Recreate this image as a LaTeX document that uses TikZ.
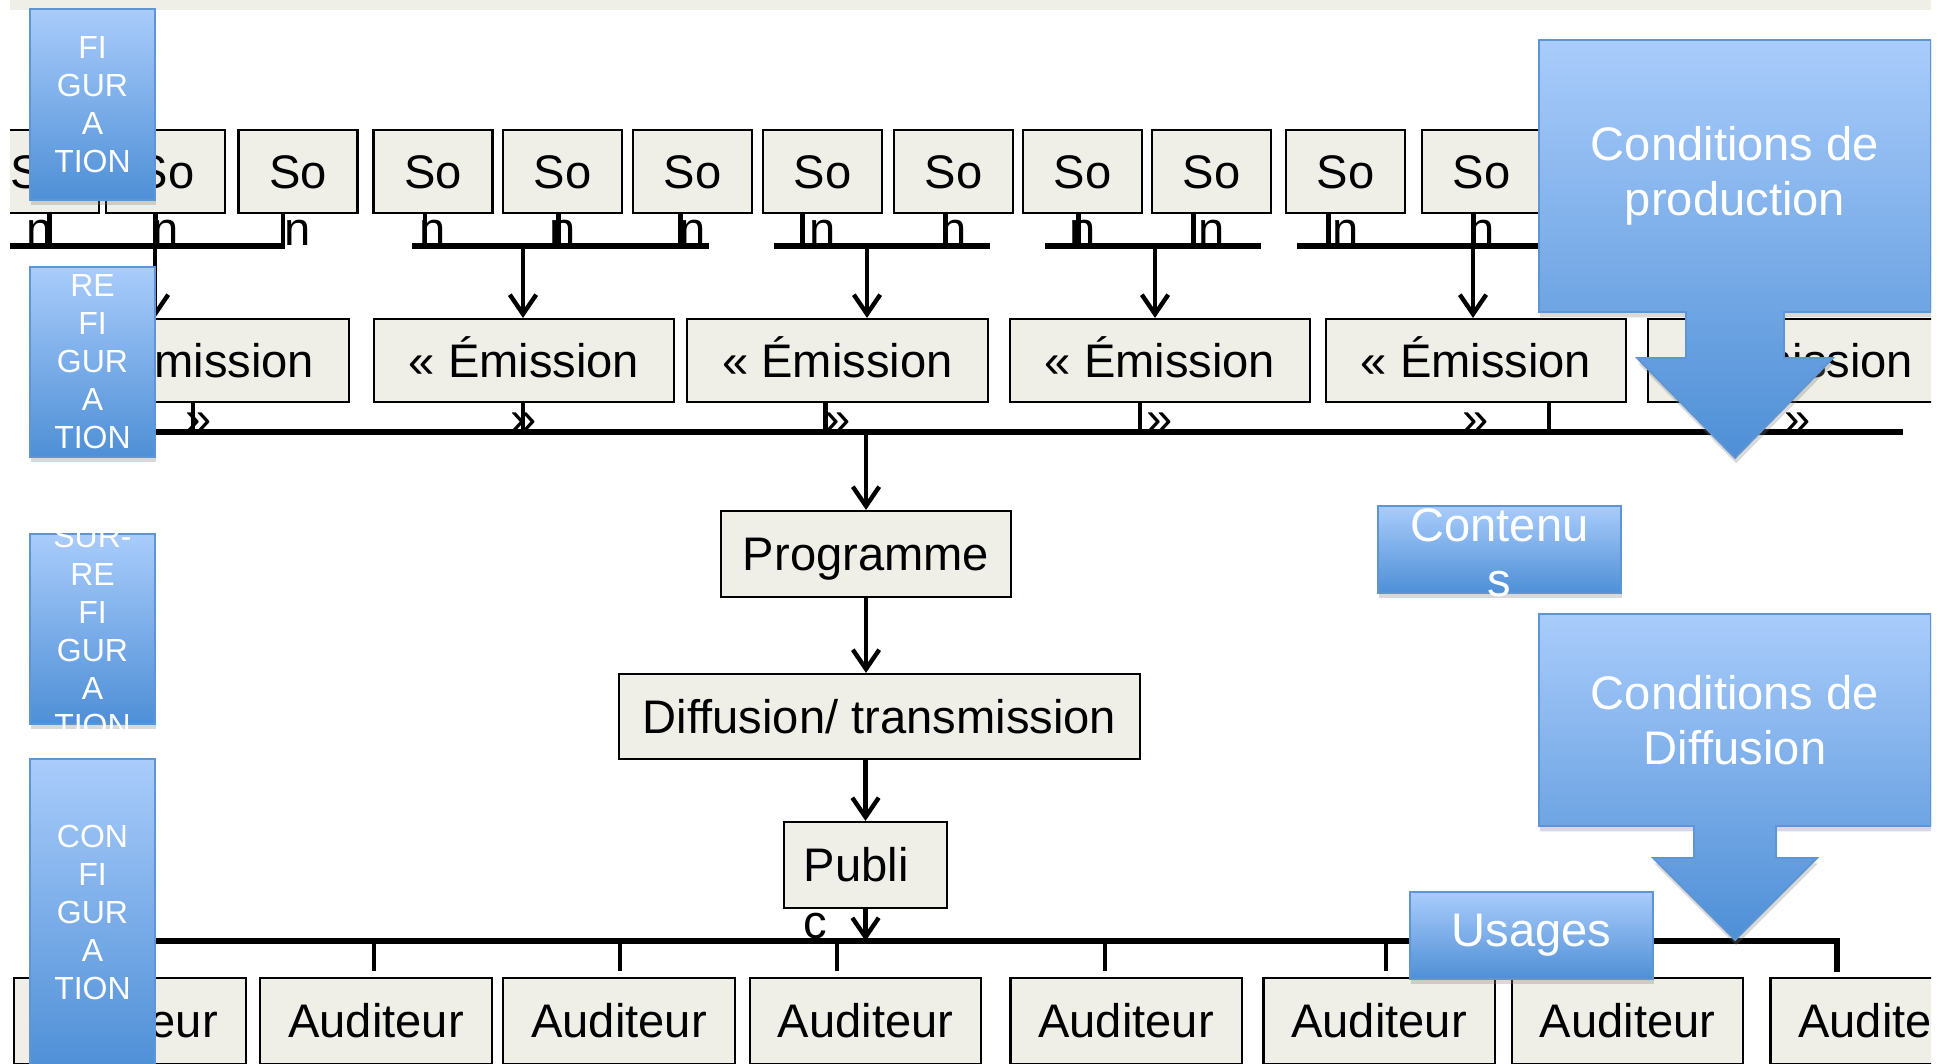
\documentclass[tikz,border=0pt]{standalone}
\usepackage{fontspec}
\setmainfont{Liberation Sans}
\usetikzlibrary{arrows.meta,calc,shadows}

\definecolor{boxfill}{HTML}{EFEFE8}
\definecolor{bluetop}{HTML}{A9CCFB}
\definecolor{bluebot}{HTML}{4E8FD6}
\definecolor{blueedge}{HTML}{6095D3}

\begin{document}
\begin{tikzpicture}[x=0.01cm, y=-0.01cm,
  plainbox/.style={draw, line width=0.6pt, fill=boxfill, inner sep=0pt,
    text height=9.6pt, text depth=0pt, font=\fontsize{13.4}{16.2}\selectfont},
  sonbox/.style={plainbox, minimum width=1.19cm, minimum height=0.83cm},
  embox/.style={plainbox, minimum width=3cm, minimum height=0.83cm},
  audbox/.style={plainbox, minimum width=2.31cm, minimum height=0.86cm},
  spill/.style={anchor=base, inner sep=0pt, font=\fontsize{13.4}{16.2}\selectfont},
  bus/.style={line width=1.6pt},
  stub/.style={line width=1.25pt},
  arr/.style={line width=1.25pt, -{Straight Barb[length=5.5pt,width=7.5pt]}},
  bluebox/.style={draw=blueedge, line width=0.5pt, top color=bluetop, bottom color=bluebot,
    inner sep=0pt, drop shadow={shadow xshift=0.3pt, shadow yshift=-1.5pt, opacity=0.3}},
  sidetxt/.style={text=white, align=center, inner sep=0pt, font=\fontsize{9.1}{10.8}\selectfont},
  bluetxt/.style={text=white, align=center, inner sep=0pt, font=\fontsize{13.4}{15.6}\selectfont}
]
\useasboundingbox (0,0) rectangle (1952,1063);
\begin{scope}
\clip (10,0) rectangle (1931,1063);
\fill[boxfill] (10,0) rectangle (1931,10);

% sources
\foreach \i/\x/\d in {1/39.5/10, 2/165.5/-10, 3/298/-15, 4/433/-8, 5/562.5/-4, 6/692.5/-12,
    7/822.5/-20, 8/953.5/-8, 9/1082.5/-4, 10/1211.5/-18, 11/1345.5/-17, 12/1481.5/-8}{
  \node[sonbox] (s\i) at (\x,171.5) {So};
  \node[spill] (n\i) at ([yshift=-0.57cm]s\i.base) {n};
  \draw[stub] ($(s\i.south)+(\d,0)$) -- ++(0,33);
}
\coordinate (gA1) at (0,246);    \coordinate (gA2) at (285,246);
\coordinate (gB1) at (412,246);  \coordinate (gB2) at (709,246);
\coordinate (gC1) at (774,246);  \coordinate (gC2) at (990,246);
\coordinate (gD1) at (1045,246); \coordinate (gD2) at (1261,246);
\coordinate (gE1) at (1297,246); \coordinate (gE2) at (1600,246);
\coordinate (jA) at (155,246);  \coordinate (jB) at (523,246);
\coordinate (jC) at (867,246);  \coordinate (jD) at (1155,246);
\coordinate (jE) at (1473,246);
\foreach \g in {A,B,C,D,E}
  \draw[bus] (g\g1) -- (g\g2);

% emissions
\foreach \i/\x/\d in {1/199/-6, 2/524/-1, 3/837.5/-12, 4/1160/-20, 5/1476/73}{
  \node[embox] (e\i) at (\x,360.5) {« Émission};
  \node[spill] (q\i) at ([yshift=-0.57cm]e\i.base) {»};
  \draw[stub] ($(e\i.south)+(\d,0)$) -- ++(0,30);
}
\node[embox] (e6) at (1798,360.5) {« Émission};
\node[spill] (q6) at ([yshift=-0.57cm]e6.base) {»};
\foreach \g/\i in {A/1,B/2,C/3,D/4,E/5}
  \draw[arr] (j\g) -- (j\g |- e\i.north);
\coordinate (b2l) at (100,432); \coordinate (b2r) at (1903,432);
\draw[bus] (b2l) -- (b2r);

% chain
\node[plainbox, minimum width=2.9cm, minimum height=0.86cm] (prog) at (866,554) {Programme};
\node[plainbox, minimum width=5.21cm, minimum height=0.85cm] (diff) at (879.5,716.5) {Diffusion/ transmission};
\node[plainbox, text width=1.23cm, inner xsep=0.2cm, minimum height=0.86cm, align=left] (pub) at (865.5,865) {Publi};
\node[spill, anchor=base west] (pubc) at ([xshift=0.2cm,yshift=-0.57cm]pub.base west) {c};
\coordinate (b3l) at (100,941); \coordinate (b3r) at (1837,941);
\draw[arr] (prog.north |- b2l) -- (prog.north);
\draw[arr] (prog.south) -- (prog.south |- diff.north);
\draw[arr] (diff.south -| pub.north) -- (pub.north);
\draw[arr] (pub.south) -- (pub.south |- b3l);

% listeners
\foreach \i/\x in {1/130, 2/376, 3/619, 4/865.5, 5/1126, 6/1379, 7/1627.5, 8/1886}
  \node[audbox] (a\i) at (\x,1021) {Auditeur};
\draw[bus] (b3l) -- (b3r) -- ++(0,31);
\foreach \i/\d in {2/-2, 3/1, 4/-28.5, 5/-21, 6/7}
  \draw[stub] ($(a\i.north)+(\d,-37)$) -- ($(a\i.north)+(\d,-6)$);

% blue labels
\node[bluebox, minimum width=1.25cm, minimum height=1.91cm] (fig) at (92.5,104.5) {};
\node[sidetxt] (figtxt) at (fig) {FI\\GUR\\A\\TION};
\node[bluebox, minimum width=1.25cm, minimum height=1.90cm] (refig) at (92.5,362) {};
\node[sidetxt] (refigtxt) at (refig) {RE\\FI\\GUR\\A\\TION};
\node[bluebox, minimum width=1.25cm, minimum height=1.90cm] (surfig) at (92.5,629) {};
\node[sidetxt] (surfigtxt) at (92.5,631) {SUR-\\RE\\FI\\GUR\\A\\TION};
\node[bluebox, minimum width=1.25cm, minimum height=3.11cm] (config) at (92.5,914.5) {};
\node[sidetxt] (configtxt) at (92.5,912) {CON\\FI\\GUR\\A\\TION};

\node[bluebox, minimum width=2.43cm, minimum height=0.87cm] (cont) at (1499.5,549.5) {};
\node[bluetxt] (conttxt) at (1499.5,553) {Contenu\\s};
\node[bluebox, minimum width=2.43cm, minimum height=0.87cm] (usa) at (1531.5,935.5) {};
\node[bluetxt] (usatxt) at (usa) {Usages};

\path[bluebox] (1539,40) -- (1931,40) -- (1931,312) -- (1784,312) -- (1784,358) -- (1833,358)
  -- (1735,458) -- (1637,358) -- (1686,358) -- (1686,312) -- (1539,312) -- cycle;
\node[bluetxt] (condprod) at (1735,176) {Conditions de\\production};
\path[bluebox] (1539,614) -- (1931,614) -- (1931,826) -- (1776,826) -- (1776,858) -- (1817,858)
  -- (1735,940) -- (1653,858) -- (1694,858) -- (1694,826) -- (1539,826) -- cycle;
\node[bluetxt] (conddiff) at (1735,720) {Conditions de\\Diffusion};
\end{scope}
\end{tikzpicture}
\end{document}
